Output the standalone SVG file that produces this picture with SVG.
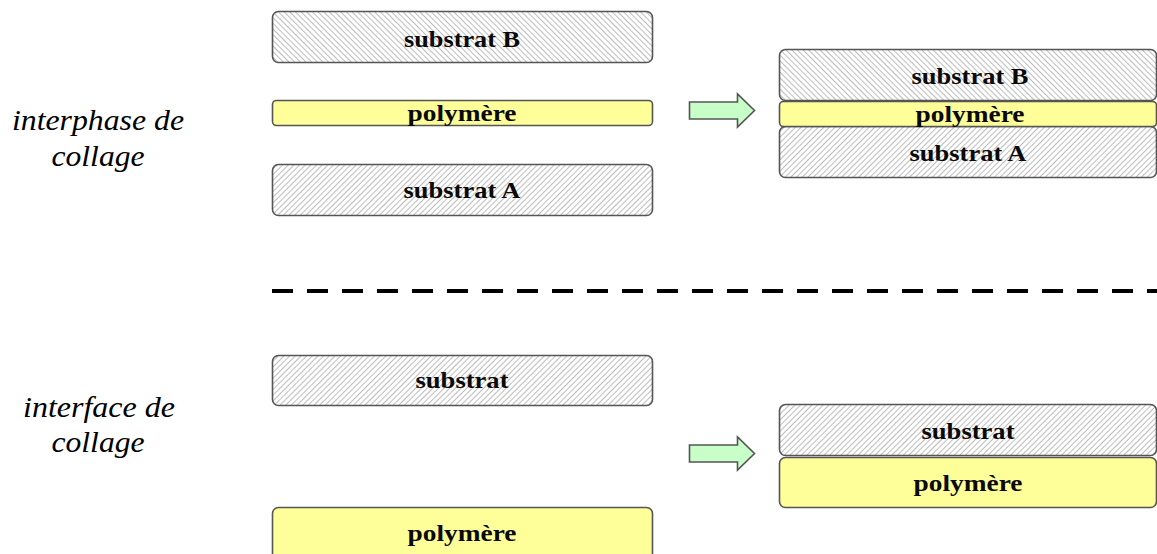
<svg xmlns="http://www.w3.org/2000/svg" width="1157" height="554" viewBox="0 0 1157 554">
  <defs>
    <!-- diagonal hatching for the substrates -->
    <pattern id="hatchBack" patternUnits="userSpaceOnUse" width="4" height="4" patternTransform="rotate(-45)">
      <rect width="4" height="4" fill="#ffffff"/>
      <line x1="0" y1="0" x2="0" y2="4" stroke="#a6a6a6" stroke-width="1.5"/>
    </pattern>
    <pattern id="hatchFwd" patternUnits="userSpaceOnUse" width="4" height="4" patternTransform="rotate(45)">
      <rect width="4" height="4" fill="#ffffff"/>
      <line x1="0" y1="0" x2="0" y2="4" stroke="#a6a6a6" stroke-width="1.5"/>
    </pattern>
    <path id="arrowShape" d="M0,8 H48 V0 L65,16.5 L48,33 V25 H0 Z"/>
  </defs>
  <style>
    .box { stroke: #555555; stroke-width: 1.6; }
    .sb { fill: url(#hatchBack); }
    .sa { fill: url(#hatchFwd); }
    .poly { fill: #ffff99; }
    .lbl { font-family: "Liberation Serif", "Times New Roman", serif; font-weight: bold; font-size: 23px; fill: #0a0a0a; text-anchor: middle; }
    .side { font-family: "Liberation Serif", "Times New Roman", serif; font-style: italic; font-size: 29px; fill: #000000; text-anchor: middle; }
    .arrow { fill: #c8ffc8; stroke: #555555; stroke-width: 1.6; }
  </style>

  <rect width="1157" height="554" fill="#ffffff"/>

  <!-- side captions -->
  <g id="caption-interphase">
    <text class="side" x="98" y="130" textLength="172" lengthAdjust="spacingAndGlyphs">interphase de</text>
    <text class="side" x="98" y="166" textLength="93" lengthAdjust="spacingAndGlyphs">collage</text>
  </g>
  <g id="caption-interface">
    <text class="side" x="99" y="417" textLength="152" lengthAdjust="spacingAndGlyphs">interface de</text>
    <text class="side" x="98" y="452" textLength="93" lengthAdjust="spacingAndGlyphs">collage</text>
  </g>

  <!-- top: separate layers -->
  <g id="left-substrat-b">
    <rect class="box sb" x="272.5" y="11.5" width="380" height="51" rx="6"/>
    <text class="lbl" x="462" y="47" textLength="116" lengthAdjust="spacingAndGlyphs">substrat B</text>
  </g>
  <g id="left-polymere-top">
    <rect class="box poly" x="272.5" y="100.5" width="380" height="25" rx="4"/>
    <text class="lbl" x="462" y="121" textLength="109" lengthAdjust="spacingAndGlyphs">polymère</text>
  </g>
  <g id="left-substrat-a">
    <rect class="box sa" x="272.5" y="164.5" width="380" height="51" rx="6"/>
    <text class="lbl" x="462" y="198" textLength="117" lengthAdjust="spacingAndGlyphs">substrat A</text>
  </g>

  <!-- top: assembled stack -->
  <g id="right-substrat-b">
    <rect class="box sb" x="779.5" y="49.5" width="377" height="51" rx="6"/>
    <text class="lbl" x="970" y="84" textLength="117" lengthAdjust="spacingAndGlyphs">substrat B</text>
  </g>
  <g id="right-substrat-a">
    <rect class="box sa" x="779.5" y="126.5" width="377" height="51" rx="6"/>
    <text class="lbl" x="968" y="161" textLength="117" lengthAdjust="spacingAndGlyphs">substrat A</text>
  </g>
  <g id="right-polymere-top">
    <rect class="box poly" x="779.5" y="101.5" width="377" height="25" rx="4"/>
    <text class="lbl" x="970" y="122" textLength="109" lengthAdjust="spacingAndGlyphs">polymère</text>
  </g>

  <!-- bottom: separate layers -->
  <g id="left-substrat">
    <rect class="box sa" x="272.5" y="355.5" width="380" height="50" rx="6"/>
    <text class="lbl" x="462" y="388" textLength="93" lengthAdjust="spacingAndGlyphs">substrat</text>
  </g>
  <g id="left-polymere-bottom">
    <rect class="box poly" x="272.5" y="507.5" width="380" height="56" rx="6"/>
    <text class="lbl" x="462" y="541" textLength="109" lengthAdjust="spacingAndGlyphs">polymère</text>
  </g>

  <!-- bottom: assembled pair -->
  <g id="right-substrat">
    <rect class="box sa" x="779.5" y="404.5" width="377" height="51" rx="6"/>
    <text class="lbl" x="968" y="439" textLength="93" lengthAdjust="spacingAndGlyphs">substrat</text>
  </g>
  <g id="right-polymere-bottom">
    <rect class="box poly" x="779.5" y="457.5" width="377" height="50" rx="6"/>
    <text class="lbl" x="968" y="491" textLength="109" lengthAdjust="spacingAndGlyphs">polymère</text>
  </g>

  <!-- connectors: transition arrows and separator -->
  <g id="connectors">
    <use href="#arrowShape" class="arrow" transform="translate(689.5,94)"/>
    <use href="#arrowShape" class="arrow" transform="translate(689.5,437)"/>
    <line x1="272" y1="291" x2="1157" y2="291" stroke="#000000" stroke-width="4" stroke-dasharray="21 14"/>
  </g>
</svg>
